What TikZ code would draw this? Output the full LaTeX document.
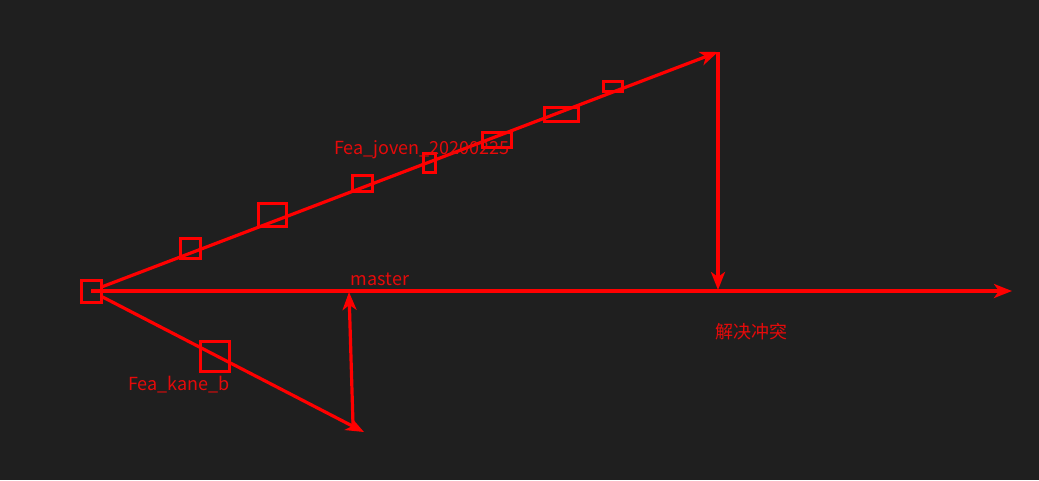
\documentclass[tikz,border=0pt]{standalone}
\usepackage{fontspec}
\setmainfont{Noto Sans CJK SC}
\usetikzlibrary{arrows.meta}
\definecolor{bg}{RGB}{31,31,31}
\definecolor{ln}{RGB}{255,0,0}
\definecolor{tx}{RGB}{230,10,10}
\tikzset{
  commit/.style={draw=ln, line width=3pt, inner sep=0pt, minimum width=#1},
  branch/.style={draw=ln, line width=3.2pt, -{Stealth[length=18pt,width=14pt,inset=5pt]}},
  lbl/.style={text=tx, font=\fontsize{18}{20}\selectfont, inner sep=0pt}
}
\begin{document}
\begin{tikzpicture}[x=1pt,y=-1pt]
\fill[bg] (0,0) rectangle (1039,480);
\useasboundingbox (0,0) rectangle (1039,480);
% start commit
\node[commit=20pt, minimum height=22pt] (s) at (91,291) {};
% upper branch commits
\node[commit=20pt, minimum height=20pt] (u1) at (190,248) {};
\node[commit=28pt, minimum height=23pt] (u2) at (272,215) {};
\node[commit=20pt, minimum height=16pt] (u3) at (362,183) {};
\node[commit=12pt, minimum height=19pt] (u4) at (429,163) {};
\node[commit=29pt, minimum height=15pt] (u5) at (497,139.5) {};
\node[commit=34pt, minimum height=14pt] (u6) at (561,114) {};
\node[commit=19pt, minimum height=10pt] (u7) at (613,86.7) {};
% lower branch commit
\node[commit=29pt, minimum height=30pt] (l1) at (214.5,356) {};
% coordinates
\coordinate (ut) at (718,52);
\coordinate (um) at (718,290);
\coordinate (me) at (1012,291);
\coordinate (lt) at (364,432);
\coordinate (lb) at (353,424);
\coordinate (mm) at (349,292);
% connectors
\draw[branch] (s.center) -- (me);
\draw[branch] (s) -- (ut);
\draw[branch] (ut) -- (um);
\draw[branch] (s) -- (lt);
\draw[branch] (lb) -- (mm);
% labels
\node[lbl] (tj) at (422,150) {Fea\_joven\_20200225};
\node[lbl] (tm) at (380,279) {master};
\node[lbl] (tk) at (179,385) {Fea\_kane\_b};
\node[lbl] (tc) at (751,332) {解决冲突};
\end{tikzpicture}
\end{document}
